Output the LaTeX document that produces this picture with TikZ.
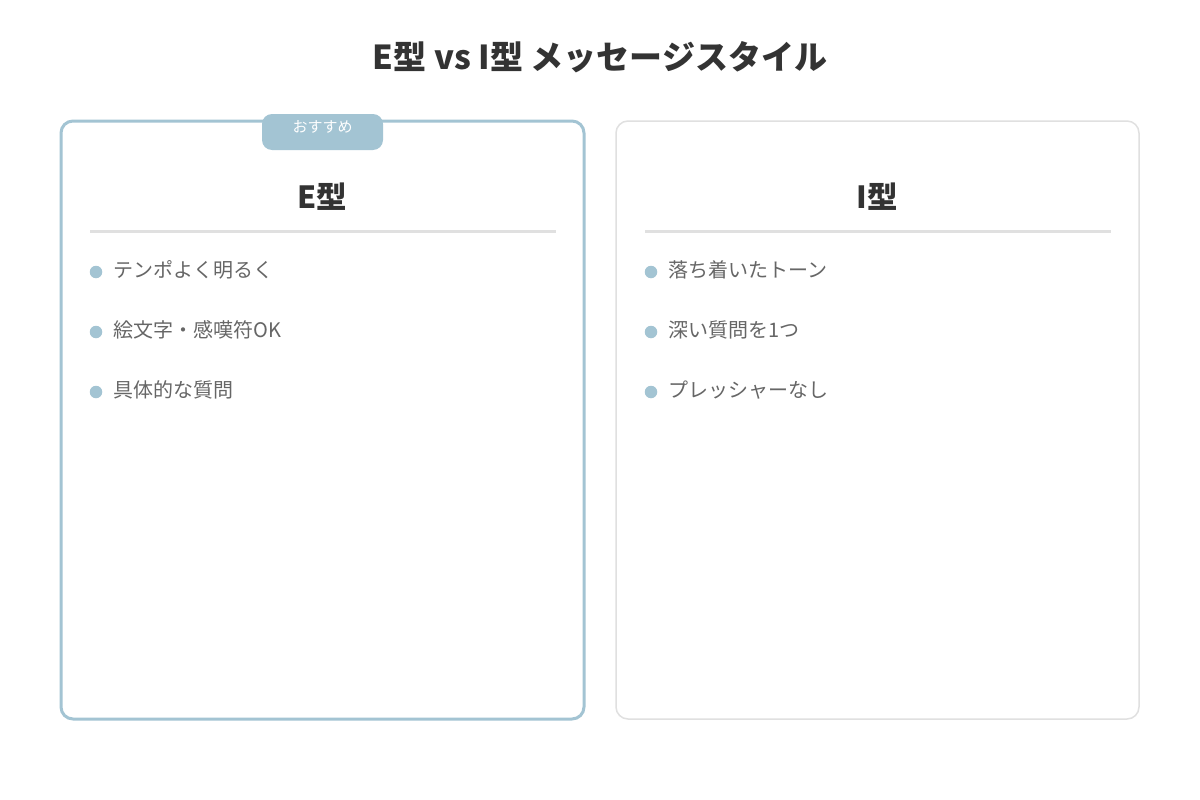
\documentclass[tikz,border=0pt]{standalone}
\usepackage{fontspec}
\setmainfont{Noto Sans CJK JP}
\definecolor{accent}{HTML}{A3C4D3}
\definecolor{titlec}{HTML}{333333}
\definecolor{bodyc}{HTML}{666666}
\definecolor{linec}{HTML}{E0E0E0}
\begin{document}
\begin{tikzpicture}[x=1pt,y=-1pt,
  card/.style={draw, rounded corners=12pt, minimum width=523pt, minimum height=598pt, inner sep=0pt},
  heading/.style={font=\fontsize{30.5}{36}\selectfont\bfseries, text=titlec, inner sep=0pt},
  dot/.style={circle, fill=accent, minimum size=12.5pt, inner sep=0pt},
  item/.style={anchor=west, font=\fontsize{20}{24}\selectfont, text=bodyc, inner sep=0pt},
  divider/.style={draw=linec, line width=3pt}
]
\useasboundingbox (0,0) rectangle (1200,800);
\fill[white] (0,0) rectangle (1200,800);
\node[font=\fontsize{33}{38}\selectfont\bfseries, text=titlec] (title) at (600,57) {E型 vs I型 メッセージスタイル};
% cards
\node[card, draw=accent, line width=3pt] (cardE) at (322.5,420) {};
\node[card, draw=linec, line width=1.5pt] (cardI) at (877.5,420) {};
% badge
\node[fill=accent, rounded corners=10pt, minimum width=121pt, minimum height=36pt, inner sep=0pt] (badge) at (322.5,132) {};
\node[font=\fontsize{15}{17}\selectfont, text=white, inner sep=0pt] (badgetxt) at (322.5,127) {おすすめ};
% headings
\node[heading] (hE) at (322,197) {E型};
\node[heading] (hI) at (877,197) {I型};
\coordinate (dEa) at (90,231); \coordinate (dEb) at (556,231);
\coordinate (dIa) at (645,231); \coordinate (dIb) at (1111,231);
\draw[divider] (dEa) -- (dEb);
\draw[divider] (dIa) -- (dIb);
% E items
\node[dot] (e1) at (96,272) {};
\node[item] (te1) at (113,270) {テンポよく明るく};
\node[dot] (e2) at (96,332) {};
\node[item] (te2) at (113,330) {絵文字・感嘆符OK};
\node[dot] (e3) at (96,392) {};
\node[item] (te3) at (113,390) {具体的な質問};
% I items
\node[dot] (i1) at (651,272) {};
\node[item] (ti1) at (668,270) {落ち着いたトーン};
\node[dot] (i2) at (651,332) {};
\node[item] (ti2) at (668,330) {深い質問を1つ};
\node[dot] (i3) at (651,392) {};
\node[item] (ti3) at (668,390) {プレッシャーなし};
\end{tikzpicture}
\end{document}
